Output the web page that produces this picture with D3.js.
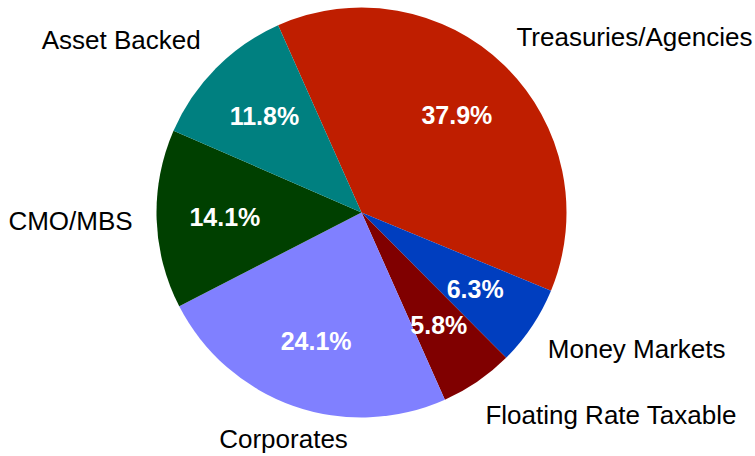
<!DOCTYPE html>
<html lang="en">
<head>
    <meta charset="utf-8">
    <title>Portfolio Allocation</title>
    <script src="https://d3js.org/d3.v7.min.js"></script>
    <style>
        body {
            margin: 0;
            background: #ffffff;
            font-family: "Liberation Sans", Arial, sans-serif;
        }
        .pct {
            fill: #ffffff;
            font-weight: bold;
            font-size: 25px;
            text-anchor: middle;
        }
        .name {
            fill: #000000;
            font-size: 26px;
        }
    </style>
</head>
<body>
    <svg id="chart" width="755" height="456"></svg>
    <script>
        const categories = ['Treasuries/Agencies', 'Money Markets', 'Floating Rate Taxable', 'Corporates', 'CMO/MBS', 'Asset Backed'];
        const shares = [37.9, 6.3, 5.8, 24.1, 14.1, 11.8];
        const colors = ['#bf1e00', '#003ebf', '#800000', '#8080ff', '#004000', '#008080'];

        const width = 755, height = 456;
        const cx = 361.5, cy = 212.5;
        const radius = 205;
        const startAngle = -24 * Math.PI / 180;

        const data = categories.map((c, i) => ({ name: c, value: shares[i], color: colors[i] }));

        const pie = d3.pie()
            .sort(null)
            .value(d => d.value)
            .startAngle(startAngle)
            .endAngle(startAngle + 2 * Math.PI);

        const arc = d3.arc().innerRadius(0).outerRadius(radius);
        const pctArc = d3.arc().innerRadius(radius * 0.667).outerRadius(radius * 0.667);

        const svg = d3.select('#chart');
        const g = svg.append('g').attr('transform', `translate(${cx},${cy})`);

        const arcs = pie(data);

        g.selectAll('path')
            .data(arcs)
            .enter().append('path')
            .attr('d', arc)
            .attr('fill', d => d.data.color);

        g.selectAll('.pct')
            .data(arcs)
            .enter().append('text')
            .attr('class', 'pct')
            .attr('transform', d => `translate(${pctArc.centroid(d)})`)
            .attr('dy', '0.36em')
            .text(d => d.value.toFixed(1) + '%');

        // outside category labels
        const labelR = radius + 30;
        g.selectAll('.name')
            .data(arcs)
            .enter().append('text')
            .attr('class', 'name')
            .each(function(d) {
                const a = (d.startAngle + d.endAngle) / 2;
                const sx = Math.sin(a), sy = -Math.cos(a);
                let anchor = sx > 0 ? 'start' : 'end';
                if (Math.abs(sx) < 0.4) anchor = 'middle';
                const push = anchor === 'middle' ? 5 : 10;
                d3.select(this)
                    .attr('x', labelR * sx + (anchor === 'start' ? -9 : anchor === 'end' ? 6 : 0))
                    .attr('y', labelR * sy + sy * push)
                    .attr('dy', '0.36em')
                    .attr('text-anchor', anchor);
            })
            .text(d => d.data.name);
    </script>
</body>
</html>
